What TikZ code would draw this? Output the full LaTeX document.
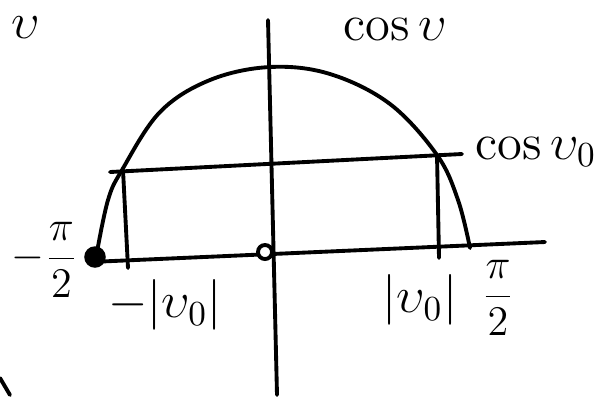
\documentclass[tikz,border=0pt]{standalone}
\usepackage{amsmath,amssymb}
\usepackage{tikz}
\usetikzlibrary{calc}

\begin{document}
\begin{tikzpicture}[
  x=0.01cm, y=-0.01cm,
  stroke/.style={line width=1.1pt, line cap=round, line join=round},
  lbl/.style={font=\Large, inner sep=0pt},
  fraclbl/.style={font=\large, inner sep=0pt},
  dot/.style={circle, draw, line width=1.1pt, inner sep=0pt, minimum size=5pt}
]
\useasboundingbox (0,0) rectangle (595,399);
% axes
\coordinate (xl) at (90,262);
\coordinate (xr) at (545,242);
\coordinate (yt) at (268,20);
\coordinate (yb) at (277,395);
\draw[stroke] (xl) -- (xr);
\draw[stroke] (yt) -- (yb);
\node[dot, fill=black] (lend) at (95,257) {};
\node[dot, fill=white, minimum size=4pt] (orig) at (265,252) {};
% cosine arch
\draw[stroke] plot[smooth, tension=0.6] coordinates {(97,252) (108,200) (122,170) (160,112) (210,80) (270,67) (330,74) (390,104) (437,155) (458,200) (470,248)};
% level cos v0 and its feet
\coordinate (hl) at (110,172);
\coordinate (hr) at (462,154);
\coordinate (pl) at (123,170);
\coordinate (pr) at (437,155);
\draw[stroke] (hl) -- (hr);
\draw[stroke] (pl) -- (128,268);
\draw[stroke] (pr) -- (439,258);
% labels
\node[lbl] (top) at (26,28) {$\upsilon$};
\node[lbl] (cosv) at (395,30) {$\cos\upsilon$};
\node[lbl] (cosvo) at (536,152) {$\cos\upsilon_0$};
\node[fraclbl] (mpi) at (45,260) {$-\dfrac{\pi}{2}$};
\node[lbl] (mvo) at (165,305) {$-|\upsilon_0|$};
\node[lbl] (vo) at (420,300) {$|\upsilon_0|$};
\node[fraclbl] (ppi) at (498,298) {$\dfrac{\pi}{2}$};
\draw[stroke] (0,378) -- (10,395);
\end{tikzpicture}
\end{document}
